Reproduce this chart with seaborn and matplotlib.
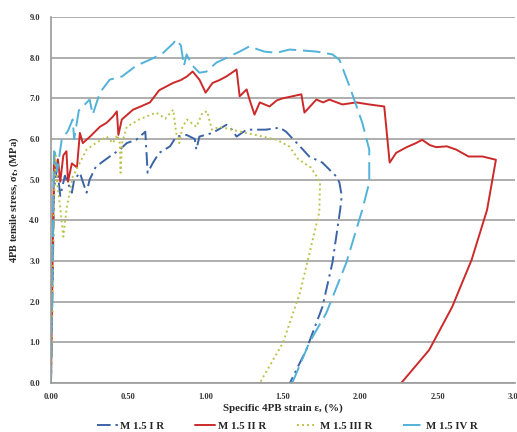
import matplotlib
matplotlib.use("Agg")
import matplotlib.pyplot as plt
import seaborn as sns
import pandas as pd

# ---------------------------------------------------------------------------
# Data (strain in %, stress in MPa)
# ---------------------------------------------------------------------------

strain_I = [0.00, 0.01, 0.02, 0.04, 0.06, 0.09, 0.135, 0.15, 0.187, 0.21, 0.23,
            0.25, 0.29, 0.38, 0.445, 0.49, 0.55, 0.61, 0.625, 0.66, 0.70, 0.77,
            0.81, 0.877, 0.93, 0.94, 0.96, 1.045, 1.135, 1.17, 1.20, 1.265,
            1.33, 1.39, 1.48, 1.52, 1.61, 1.67, 1.755, 1.845, 1.865, 1.88,
            1.87, 1.82, 1.755, 1.65, 1.545]
stress_I = [0.00, 2.40, 4.80, 5.30, 4.60, 5.10, 4.68, 5.00, 5.17, 4.90, 4.68,
            5.00, 5.32, 5.57, 5.74, 5.90, 5.98, 6.18, 5.17, 5.42, 5.66, 5.82,
            6.06, 6.10, 6.00, 5.74, 6.06, 6.15, 6.35, 6.23, 6.06, 6.23,
            6.23, 6.23, 6.28, 6.18, 5.82, 5.57, 5.42, 5.08, 4.93, 4.60,
            4.26, 2.96, 1.87, 0.81, 0.00]

strain_II = [0.00, 0.01, 0.02, 0.03, 0.045, 0.06, 0.08, 0.10, 0.11, 0.135, 0.168,
             0.187, 0.206, 0.25, 0.316, 0.36, 0.40, 0.426, 0.436, 0.458, 0.53,
             0.58, 0.64, 0.70, 0.79, 0.84, 0.88, 0.916, 0.96, 1.00, 1.045,
             1.09, 1.135, 1.20, 1.22, 1.265, 1.284, 1.316, 1.35, 1.413, 1.46,
             1.497, 1.56, 1.619, 1.639, 1.716, 1.76, 1.80, 1.884, 1.974, 2.058,
             2.155, 2.19, 2.232, 2.30, 2.36, 2.40, 2.45, 2.49, 2.56, 2.62,
             2.70, 2.79, 2.877, 2.82, 2.72, 2.594, 2.445, 2.265]
stress_II = [0.00, 2.80, 5.60, 5.20, 5.50, 4.95, 5.60, 5.70, 4.95, 5.40, 5.30,
             6.15, 5.90, 6.05, 6.30, 6.40, 6.55, 6.68, 6.10, 6.48, 6.72,
             6.80, 6.90, 7.20, 7.38, 7.45, 7.54, 7.66, 7.46, 7.14, 7.38,
             7.45, 7.54, 7.71, 7.05, 7.22, 6.97, 6.60, 6.90, 6.80, 6.95,
             7.00, 7.05, 7.10, 6.65, 6.97, 6.90, 6.97, 6.85, 6.90, 6.85,
             6.80, 5.42, 5.66, 5.80, 5.90, 5.98, 5.85, 5.80, 5.82, 5.74,
             5.57, 5.57, 5.49, 4.26, 3.03, 1.87, 0.81, 0.00]

strain_III = [0.00, 0.01, 0.02, 0.03, 0.04, 0.06, 0.08, 0.10, 0.12, 0.14, 0.187,
              0.23, 0.29, 0.36, 0.40, 0.43, 0.445, 0.45, 0.46, 0.49, 0.57,
              0.68, 0.74, 0.79, 0.81, 0.83, 0.85, 0.88, 0.94, 0.98, 1.01,
              1.04, 1.09, 1.15, 1.26, 1.37, 1.46, 1.54, 1.60, 1.68, 1.74,
              1.735, 1.61, 1.50, 1.35]
stress_III = [0.00, 2.00, 4.50, 5.60, 4.90, 4.30, 3.60, 4.26, 4.68, 5.07, 5.42,
              5.74, 5.90, 6.06, 5.90, 6.10, 5.90, 5.17, 5.90, 6.30, 6.48,
              6.65, 6.50, 6.72, 6.15, 5.90, 6.30, 6.48, 6.30, 6.65, 6.68,
              6.23, 6.30, 6.25, 6.15, 6.06, 5.98, 5.82, 5.50, 5.30, 4.95,
              4.20, 2.22, 0.99, 0.00]

strain_IV = [0.00, 0.01, 0.02, 0.026, 0.04, 0.07, 0.11, 0.14, 0.15, 0.18, 0.25,
             0.27, 0.316, 0.38, 0.46, 0.55, 0.64, 0.72, 0.79, 0.81, 0.84, 0.86,
             0.877, 0.916, 0.96, 1.006, 1.07, 1.155, 1.22, 1.284, 1.34, 1.38,
             1.458, 1.542, 1.62, 1.716, 1.79, 1.82, 1.865, 1.93, 2.013, 2.058,
             2.058, 2.013, 1.91, 1.78, 1.67, 1.56]
stress_IV = [0.00, 3.00, 5.70, 5.66, 5.20, 6.00, 6.20, 6.48, 6.00, 6.70, 6.97,
             6.60, 7.14, 7.46, 7.54, 7.80, 7.95, 8.10, 8.35, 8.45, 8.30, 7.80,
             8.08, 7.80, 7.63, 7.66, 7.88, 8.03, 8.15, 8.28, 8.20, 8.15,
             8.12, 8.20, 8.18, 8.15, 8.10, 8.08, 7.95, 7.30, 6.40, 5.74,
             4.93, 4.26, 2.96, 1.72, 0.99, 0.00]

labels = ['M 1.5 I R', 'M 1.5 II R', 'M 1.5 III R', 'M 1.5 IV R']
colors = ['#3b63a8', '#cc2a2a', '#bcc34c', '#52b2d9']
styles = [(0, (7, 2.5, 1.2, 2.5)), '-', (0, (1, 1.6)), (0, (9, 3.5))]

curves = [(strain_I, stress_I), (strain_II, stress_II),
          (strain_III, stress_III), (strain_IV, stress_IV)]

# ---------------------------------------------------------------------------
# Plot
# ---------------------------------------------------------------------------

sns.set_style('white')
plt.rcParams['font.family'] = ['Liberation Serif', 'DejaVu Serif']
plt.rcParams['font.weight'] = 'bold'

fig = plt.figure(figsize=(5.17, 4.32), dpi=100)
ax = fig.add_axes([0.0986, 0.1134, 0.8974, 0.8472])

for (x, y), lab, col, ls in zip(curves, labels, colors, styles):
    df = pd.DataFrame({'strain': x, 'stress': y})
    sns.lineplot(data=df, x='strain', y='stress', sort=False, estimator=None,
                 color=col, linestyle=ls, linewidth=1.4, label=lab, ax=ax)

ax.set_xlim(0, 3)
ax.set_ylim(0, 9)
ax.set_xticks([0, 0.5, 1.0, 1.5, 2.0, 2.5, 3.0])
ax.set_xticklabels([f'{v:.2f}' for v in ax.get_xticks()])
ax.set_yticks(range(10))
ax.set_yticklabels([f'{v:.1f}' for v in range(10)])
ax.grid(axis='y', color='#a8a8a8', linewidth=1.3)
ax.set_axisbelow(True)
for side in ['top', 'right']:
    ax.spines[side].set_visible(False)
for side in ['left', 'bottom']:
    ax.spines[side].set_color('#9a9a9a')
    ax.spines[side].set_linewidth(1.2)
ax.tick_params(axis='both', labelsize=6, colors='#999999', length=4,
               width=0.8)
ax.tick_params(axis='x', pad=3)
ax.tick_params(axis='y', pad=4)
for lbl in ax.get_xticklabels() + ax.get_yticklabels():
    lbl.set_color('#333333')

ax.set_xlabel('Specific 4PB strain ε, (%)', fontsize=7.8, fontweight='bold',
              labelpad=2)
ax.set_ylabel('4PB tensile stress, σ$_t$, (MPa)', fontsize=7.5,
              fontweight='bold', labelpad=6)

ax.legend(loc='center', bbox_to_anchor=(0.556, 0.013),
          bbox_transform=fig.transFigure, ncol=4, frameon=False,
          fontsize=7.8, handlelength=1.9, handletextpad=0.25,
          columnspacing=2.8, borderpad=0)

fig.savefig('out.png', dpi=100)
